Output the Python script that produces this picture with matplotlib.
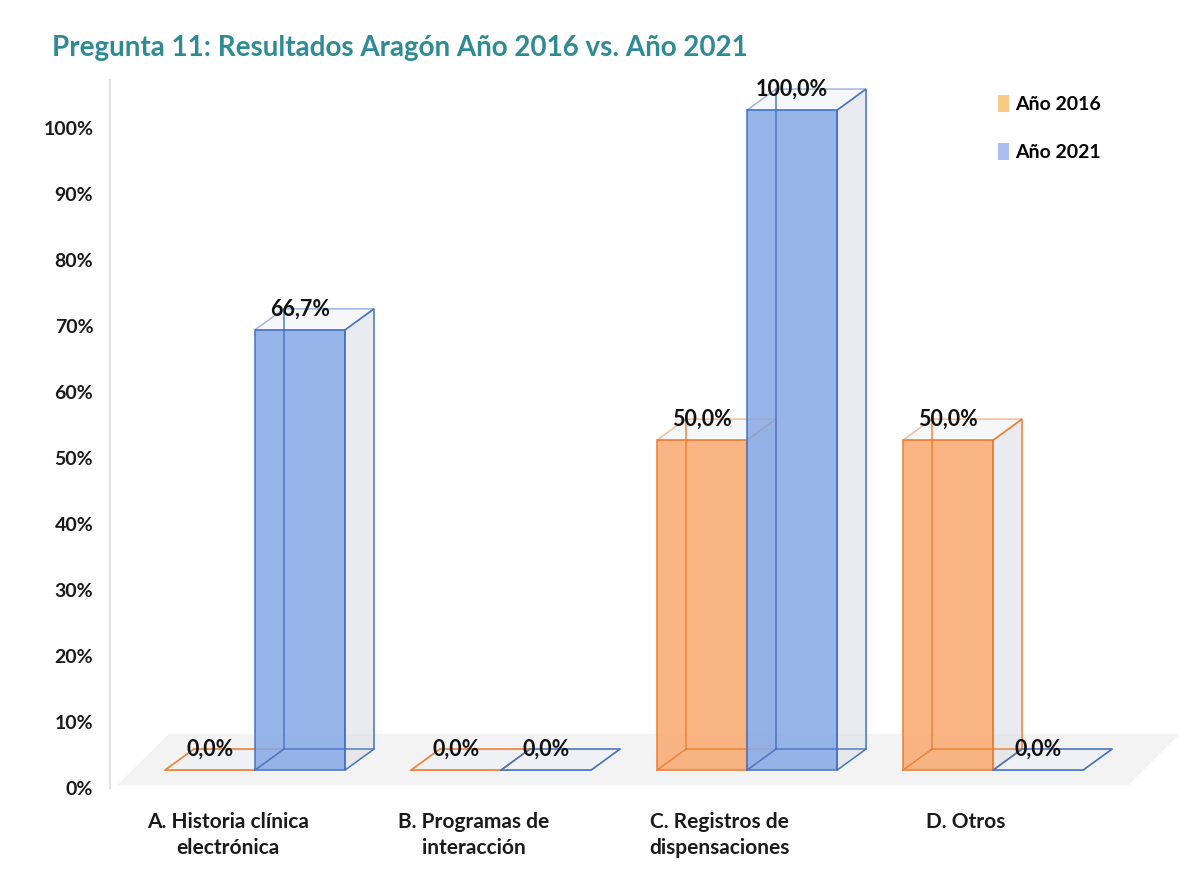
import matplotlib.pyplot as plt
from matplotlib.patches import Polygon, Patch
import numpy as np

categories = ["A. Historia clínica\nelectrónica", "B. Programas de\ninteracción",
              "C. Registros de\ndispensaciones", "D. Otros"]
years = ["Año 2016", "Año 2021"]
vals_2016 = [0.0, 0.0, 50.0, 50.0]
vals_2021 = [66.7, 0.0, 100.0, 0.0]

face_cols = ["#F9A86E", "#86A8E6"]
edge_cols = ["#ED7D31", "#4472C4"]
legend_cols = ["#F6CB84", "#A9BFEF"]

plt.rcParams['font.family'] = ['Lato', 'DejaVu Sans']

fig = plt.figure(figsize=(12.02, 8.96), dpi=100)
ax = fig.add_axes([110 / 1202, 1 - 788 / 896, 1070 / 1202, 708 / 896])
ax.set_xlim(-0.589, 3.76)
ax.set_ylim(0, 107.27)

W = 0.366      # bar width
DX = 0.118     # depth offset x
DY = 3.2       # depth offset y
BASE = 2.7     # floor level of the bar fronts

# floor shadow
ax.add_patch(Polygon([(-0.56, 0.4), (3.55, 0.4), (3.76, 8.2), (-0.35, 8.2)],
                     closed=True, facecolor="#E9E9E9", edgecolor="none", alpha=0.5, zorder=0))


def box(x0, h, face, edge, z):
    b = BASE
    # hidden back edges
    for xs, ys in [([x0 + DX, x0 + DX], [b + DY, b + h + DY]),
                   ([x0 + DX, x0 + W + DX], [b + DY, b + DY]),
                   ([x0, x0 + DX], [b, b + DY])]:
        ax.plot(xs, ys, color=edge, lw=1.1, alpha=0.9, zorder=z + 0.3)
    side = [(x0 + W, b), (x0 + W + DX, b + DY), (x0 + W + DX, b + h + DY), (x0 + W, b + h)]
    front = [(x0, b), (x0 + W, b), (x0 + W, b + h), (x0, b + h)]
    top = [(x0, b + h), (x0 + W, b + h), (x0 + W + DX, b + h + DY), (x0 + DX, b + h + DY)]
    ax.add_patch(Polygon(side, closed=True, facecolor="#DCDFE6", alpha=0.6,
                         edgecolor="none", zorder=z))
    ax.add_patch(Polygon(side, closed=True, facecolor="none", edgecolor=edge, lw=1.1, zorder=z + 0.4))
    ax.add_patch(Polygon(front, closed=True, facecolor=face, alpha=0.85,
                         edgecolor="none", zorder=z + 0.1))
    ax.add_patch(Polygon(front, closed=True, facecolor="none", edgecolor=edge, lw=1.1, zorder=z + 0.4))
    ax.add_patch(Polygon(top, closed=True, facecolor="#EEF0F5", alpha=0.5,
                         edgecolor=edge, lw=1.1, zorder=z + 0.2))
    ax.text(x0 + W / 2, b + h + DY, f"{h:.1f}%".replace(".", ","),
            ha="center", va="center", fontsize=15.5, fontweight="bold",
            color="#111111", zorder=10)


x = np.arange(len(categories))
for s, vals in enumerate([vals_2016, vals_2021]):
    for i, v in enumerate(vals):
        box(x[i] - W + s * W, v, face_cols[s], edge_cols[s], 2 + s)

for sp in ["top", "right", "bottom"]:
    ax.spines[sp].set_visible(False)
ax.spines["left"].set_color("#E3E3E3")
ax.spines["left"].set_linewidth(1.5)

ax.set_yticks(np.arange(0, 101, 10))
ax.set_yticklabels([f"{t}%" for t in range(0, 101, 10)], fontsize=14, fontweight="bold")
ax.set_xticks(x - 0.11)
ax.set_xticklabels(categories, fontsize=15, fontweight="bold", linespacing=1.4)
ax.tick_params(axis="y", length=0, pad=12, labelcolor="#1a1a1a")
ax.tick_params(axis="x", length=0, pad=17, labelcolor="#1a1a1a")

fig.text(52 / 1202, 1 - 48 / 896, "Pregunta 11: Resultados Aragón Año 2016 vs. Año 2021",
         fontsize=20, fontweight="bold", color="#2E8B95", va="center", ha="left")

handles = [Patch(facecolor=c, edgecolor="none") for c in legend_cols]
fig.legend(handles, years, loc="upper left", bbox_to_anchor=(980 / 1202, 1 - 78 / 896),
           frameon=False, handlelength=0.6, handleheight=0.9, handletextpad=0.3,
           labelspacing=1.55, prop={"size": 14, "weight": "bold"})

fig.savefig("out.png", dpi=100, facecolor="white")
